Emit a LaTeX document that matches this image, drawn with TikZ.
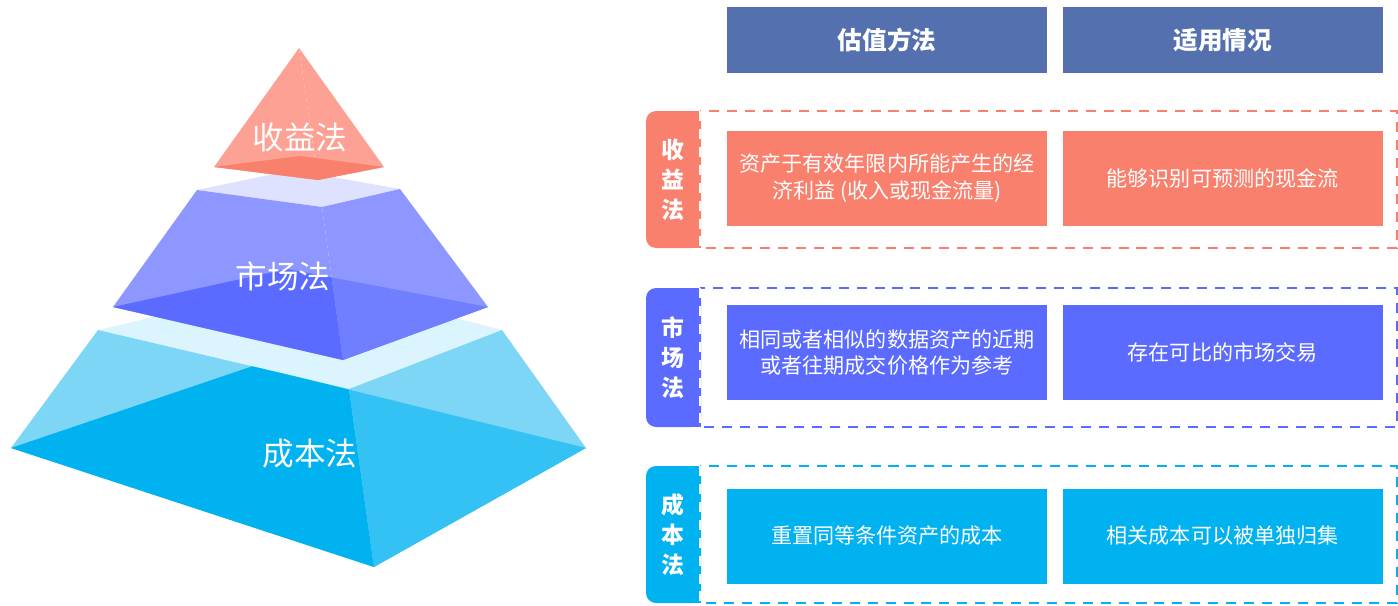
\documentclass[tikz,border=0pt]{standalone}
\usepackage{fontspec}
\setmainfont{Noto Sans CJK SC}
\usetikzlibrary{positioning}

\definecolor{incRed}{HTML}{FA806E}
\definecolor{incLight}{HTML}{FCA193}
\definecolor{mktBlue}{HTML}{5B6BFF}
\definecolor{mktLight}{HTML}{8D97FF}
\definecolor{mktMid}{HTML}{6F7FFF}
\definecolor{mktBand}{HTML}{DFE2FF}
\definecolor{costCyan}{HTML}{00B2F0}
\definecolor{costLight}{HTML}{7DD6F6}
\definecolor{costMid}{HTML}{33C2F3}
\definecolor{costBand}{HTML}{DBF4FD}
\definecolor{headBlue}{HTML}{5470AE}

\tikzset{
  headbox/.style={fill=headBlue,text=white,font=\fontsize{14}{17}\selectfont\bfseries,minimum width=6.4cm,minimum height=1.32cm,inner sep=0pt},
  cellbox/.style={fill=#1,text=white,font=\fontsize{12}{15.3}\selectfont,minimum width=6.4cm,minimum height=1.9cm,inner sep=0pt,align=center},
  tabtext/.style={text=white,font=\fontsize{13}{17}\selectfont\bfseries,align=center,inner sep=0pt},
  rowframe/.style={draw=#1,line width=1.1pt,dash pattern=on 5.7pt off 4.5pt},
  tierlabel/.style={text=white,font=\fontsize{18}{20}\selectfont,inner sep=0pt},
}

\begin{document}
\begin{tikzpicture}[x=0.02cm,y=-0.02cm]
\useasboundingbox (0,0) rectangle (1398,605);

% cost tier
\fill[costBand] (98,330) -- (310,280) -- (502,330) -- (349,389) -- cycle;
\fill[costLight] (98,330) -- (349,389) -- (374,567) -- (11,448) -- cycle;
\fill[costLight] (349,389) -- (502,330) -- (586,448) -- (374,567) -- cycle;
\begin{scope}
\clip (11,448) -- (253,366) -- (586,448) -- (374,567) -- cycle;
\fill[costCyan] (98,330) -- (349,389) -- (374,567) -- (11,448) -- cycle;
\fill[costMid] (349,389) -- (502,330) -- (586,448) -- (374,567) -- cycle;
\end{scope}

% market tier
\fill[mktBand] (197,190) -- (293,170) -- (400,189) -- (322,207) -- cycle;
\fill[mktLight] (197,190) -- (322,207) -- (343,360) -- (113,307) -- cycle;
\fill[mktLight] (322,207) -- (400,189) -- (488,307) -- (343,360) -- cycle;
\begin{scope}
\clip (113,307) -- (287,269) -- (488,307) -- (343,360) -- cycle;
\fill[mktBlue] (197,190) -- (322,207) -- (343,360) -- (113,307) -- cycle;
\fill[mktMid] (322,207) -- (400,189) -- (488,307) -- (343,360) -- cycle;
\end{scope}

% income tier
\fill[incLight] (299,48) -- (318,180) -- (214,167) -- cycle;
\fill[incLight] (299,48) -- (384,167) -- (318,180) -- cycle;
\fill[incRed] (214,167) -- (300,156) -- (384,167) -- (318,180) -- cycle;

\node[tierlabel] (incLabel) at (300,137) {收益法};
\node[tierlabel] (mktLabel) at (283,276) {市场法};
\node[tierlabel] (costLabel) at (310,454) {成本法};

% table head
\node[headbox] (hMethod) at (887,40) {估值方法};
\node[headbox,right=0.3cm of hMethod] (hCase) {适用情况};

% income row
\draw[rowframe=incRed] (700,111) rectangle (1397,248);
\fill[incRed,rounded corners=5.7pt] (646,111) rectangle (701,248);
\fill[incRed] (680,111) rectangle (701,248);
\draw[rowframe=white] (700,111) -- (700,248);
\node[tabtext] (incTab) at (673,180) {收\\益\\法};
\node[cellbox=incRed] (incWhat) at (887,178.5) {资产于有效年限内所能产生的经\\济利益 (收入或现金流量)};
\node[cellbox=incRed,right=0.3cm of incWhat] (incWhen) {能够识别可预测的现金流};

% market row
\draw[rowframe=mktBlue] (700,288) rectangle (1397,427);
\fill[mktBlue,rounded corners=5.7pt] (646,288) rectangle (701,427);
\fill[mktBlue] (680,288) rectangle (701,427);
\draw[rowframe=white] (700,288) -- (700,427);
\node[tabtext] (mktTab) at (673,357.5) {市\\场\\法};
\node[cellbox=mktBlue] (mktWhat) at (887,352.5) {相同或者相似的数据资产的近期\\或者往期成交价格作为参考};
\node[cellbox=mktBlue,right=0.3cm of mktWhat] (mktWhen) {存在可比的市场交易};

% cost row
\draw[rowframe=costCyan] (700,466) rectangle (1397,603);
\fill[costCyan,rounded corners=5.7pt] (646,466) rectangle (701,603);
\fill[costCyan] (680,466) rectangle (701,603);
\draw[rowframe=white] (700,466) -- (700,603);
\node[tabtext] (costTab) at (673,534.5) {成\\本\\法};
\node[cellbox=costCyan] (costWhat) at (887,536) {重置同等条件资产的成本};
\node[cellbox=costCyan,right=0.3cm of costWhat] (costWhen) {相关成本可以被单独归集};

\end{tikzpicture}
\end{document}
